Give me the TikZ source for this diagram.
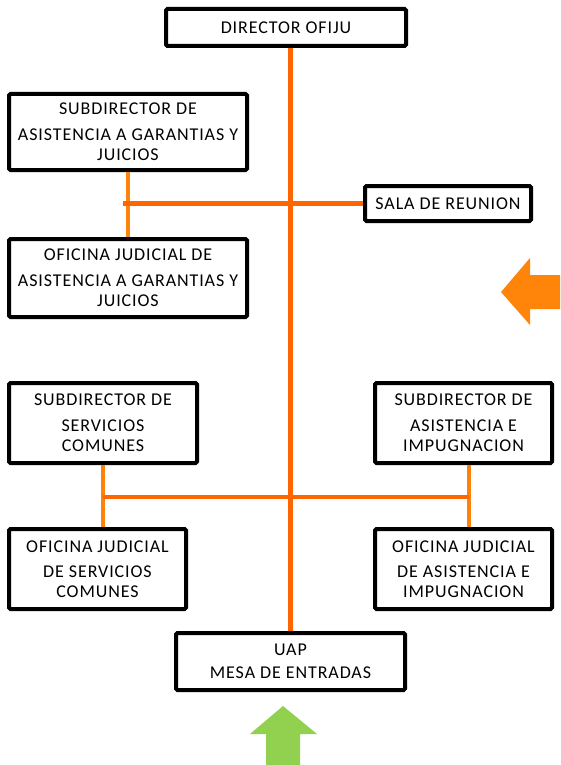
\documentclass[tikz,border=0pt]{standalone}
\usepackage{fontspec}
\setmainfont[LetterSpace=5]{Carlito}
\definecolor{lineor}{RGB}{255,102,0}
\definecolor{lineortwo}{RGB}{255,130,10}
\definecolor{arrowor}{RGB}{255,133,10}
\definecolor{arrowgr}{RGB}{146,208,80}
\begin{document}
\begin{tikzpicture}[x=1pt,y=-1pt,
  box/.style={draw=black, line width=4pt, rounded corners=1.5pt, fill=white,
    align=center, inner sep=0pt, font=\fontsize{18}{20}\selectfont},
  mainline/.style={draw=lineor, line width=4.5pt},
  subline/.style={draw=lineortwo, line width=4.5pt}]
\useasboundingbox (0,0) rectangle (560,765);
\fill[white] (0,0) rectangle (560,765);

\node[box, minimum width=240pt, minimum height=37pt] (dir) at (286,27.5) {DIRECTOR OFIJU};
\node[box, minimum width=238pt, minimum height=76pt] (sub1) at (128,132)
  {SUBDIRECTOR DE\\[6pt]ASISTENCIA A GARANTIAS Y\\JUICIOS};
\node[box, minimum width=238pt, minimum height=78pt] (off1) at (128,278)
  {OFICINA JUDICIAL DE\\[6pt]ASISTENCIA A GARANTIAS Y\\JUICIOS};
\node[box, minimum width=166pt, minimum height=35pt] (sala) at (448,203.5) {SALA DE REUNION};
\node[box, minimum width=188pt, minimum height=80pt] (subS) at (103,423)
  {SUBDIRECTOR DE\\[6pt]SERVICIOS\\COMUNES};
\node[box, minimum width=177pt, minimum height=80pt] (subA) at (463.5,423)
  {SUBDIRECTOR DE\\[6pt]ASISTENCIA E\\IMPUGNACION};
\node[box, minimum width=177pt, minimum height=80pt] (offS) at (97.5,569)
  {OFICINA JUDICIAL\\[5pt]DE SERVICIOS\\COMUNES};
\node[box, minimum width=177pt, minimum height=80pt] (offA) at (463.5,569)
  {OFICINA JUDICIAL\\[5pt]DE ASISTENCIA E\\IMPUGNACION};
\node[box, minimum width=229pt, minimum height=57pt] (uap) at (290.5,661.5)
  {UAP\\[3pt]MESA DE ENTRADAS};

% main spine
\draw[mainline] (uap.north |- dir.south) -- (uap.north);
% top branch
\draw[subline] (sub1.south) -- (off1.north);
\draw[mainline] ([xshift=-5pt]sub1.south |- sala.west) -- (sala.west);
% lower branches
\draw[subline] (subS.south) -- (subS.south |- offS.north);
\draw[subline] ([xshift=5.5pt]subA.south) -- ([xshift=5.5pt]subA.south |- offA.north);
\draw[mainline] ([yshift=-32pt]subS.south) -- ([xshift=5.5pt,yshift=-32pt]subA.south);

% orange arrow (left)
\fill[arrowor] (501,292) -- (530,258) -- (530,275) -- (560,275) -- (560,309)
  -- (530,309) -- (530,325) -- cycle;
% green arrow (up)
\fill[arrowgr] (283,706) -- (317,734) -- (300,734) -- (300,765) -- (266,765)
  -- (266,734) -- (250,734) -- cycle;
\end{tikzpicture}
\end{document}
